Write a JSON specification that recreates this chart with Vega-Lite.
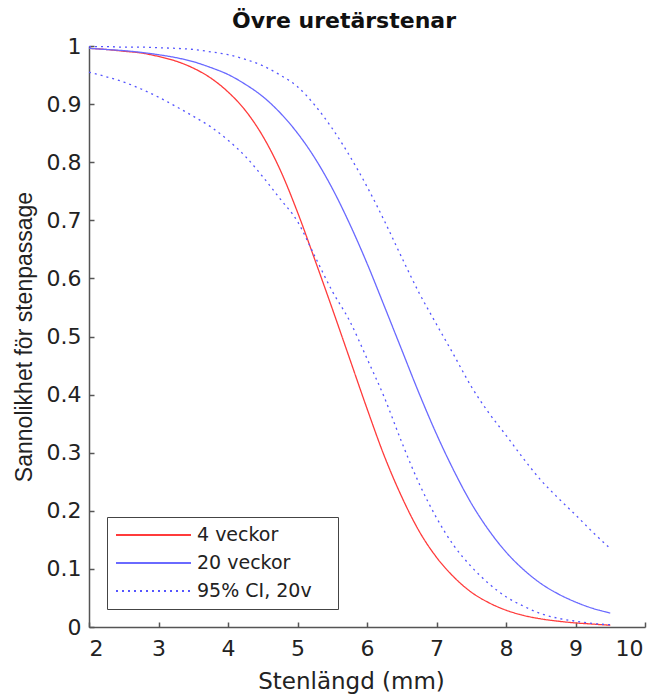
{
  "$schema": "https://vega.github.io/schema/vega-lite/v6.json",
  "autosize": "none",
  "width": 556,
  "height": 581,
  "padding": {"left": 89, "top": 46, "right": 12, "bottom": 71},
  "background": "white",
  "config": {
    "font": "DejaVu Sans",
    "view": {"stroke": null}
  },
  "title": {
    "text": "Övre uretärstenar",
    "font": "DejaVu Sans",
    "fontSize": 22,
    "fontWeight": "bold",
    "color": "#111",
    "anchor": "middle",
    "dx": -23,
    "offset": 2
  },
  "datasets": {
    "curves": [
      {"x": 2.0, "y": 0.996, "series": "4 veckor", "curve": "red"},
      {"x": 2.25, "y": 0.994, "series": "4 veckor", "curve": "red"},
      {"x": 2.5, "y": 0.991, "series": "4 veckor", "curve": "red"},
      {"x": 2.75, "y": 0.988, "series": "4 veckor", "curve": "red"},
      {"x": 3.0, "y": 0.982, "series": "4 veckor", "curve": "red"},
      {"x": 3.25, "y": 0.974, "series": "4 veckor", "curve": "red"},
      {"x": 3.5, "y": 0.962, "series": "4 veckor", "curve": "red"},
      {"x": 3.75, "y": 0.945, "series": "4 veckor", "curve": "red"},
      {"x": 4.0, "y": 0.921, "series": "4 veckor", "curve": "red"},
      {"x": 4.25, "y": 0.889, "series": "4 veckor", "curve": "red"},
      {"x": 4.5, "y": 0.845, "series": "4 veckor", "curve": "red"},
      {"x": 4.75, "y": 0.787, "series": "4 veckor", "curve": "red"},
      {"x": 5.0, "y": 0.714, "series": "4 veckor", "curve": "red"},
      {"x": 5.25, "y": 0.632, "series": "4 veckor", "curve": "red"},
      {"x": 5.5, "y": 0.548, "series": "4 veckor", "curve": "red"},
      {"x": 5.75, "y": 0.462, "series": "4 veckor", "curve": "red"},
      {"x": 6.0, "y": 0.376, "series": "4 veckor", "curve": "red"},
      {"x": 6.25, "y": 0.294, "series": "4 veckor", "curve": "red"},
      {"x": 6.5, "y": 0.224, "series": "4 veckor", "curve": "red"},
      {"x": 6.75, "y": 0.165, "series": "4 veckor", "curve": "red"},
      {"x": 7.0, "y": 0.120, "series": "4 veckor", "curve": "red"},
      {"x": 7.25, "y": 0.086, "series": "4 veckor", "curve": "red"},
      {"x": 7.5, "y": 0.060, "series": "4 veckor", "curve": "red"},
      {"x": 7.75, "y": 0.042, "series": "4 veckor", "curve": "red"},
      {"x": 8.0, "y": 0.029, "series": "4 veckor", "curve": "red"},
      {"x": 8.25, "y": 0.020, "series": "4 veckor", "curve": "red"},
      {"x": 8.5, "y": 0.014, "series": "4 veckor", "curve": "red"},
      {"x": 8.75, "y": 0.010, "series": "4 veckor", "curve": "red"},
      {"x": 9.0, "y": 0.007, "series": "4 veckor", "curve": "red"},
      {"x": 9.25, "y": 0.005, "series": "4 veckor", "curve": "red"},
      {"x": 9.5, "y": 0.003, "series": "4 veckor", "curve": "red"},

      {"x": 2.0, "y": 0.996, "series": "20 veckor", "curve": "blue"},
      {"x": 2.25, "y": 0.994, "series": "20 veckor", "curve": "blue"},
      {"x": 2.5, "y": 0.992, "series": "20 veckor", "curve": "blue"},
      {"x": 2.75, "y": 0.989, "series": "20 veckor", "curve": "blue"},
      {"x": 3.0, "y": 0.985, "series": "20 veckor", "curve": "blue"},
      {"x": 3.25, "y": 0.980, "series": "20 veckor", "curve": "blue"},
      {"x": 3.5, "y": 0.973, "series": "20 veckor", "curve": "blue"},
      {"x": 3.75, "y": 0.963, "series": "20 veckor", "curve": "blue"},
      {"x": 4.0, "y": 0.951, "series": "20 veckor", "curve": "blue"},
      {"x": 4.25, "y": 0.934, "series": "20 veckor", "curve": "blue"},
      {"x": 4.5, "y": 0.913, "series": "20 veckor", "curve": "blue"},
      {"x": 4.75, "y": 0.885, "series": "20 veckor", "curve": "blue"},
      {"x": 5.0, "y": 0.850, "series": "20 veckor", "curve": "blue"},
      {"x": 5.25, "y": 0.807, "series": "20 veckor", "curve": "blue"},
      {"x": 5.5, "y": 0.755, "series": "20 veckor", "curve": "blue"},
      {"x": 5.75, "y": 0.694, "series": "20 veckor", "curve": "blue"},
      {"x": 6.0, "y": 0.626, "series": "20 veckor", "curve": "blue"},
      {"x": 6.25, "y": 0.552, "series": "20 veckor", "curve": "blue"},
      {"x": 6.5, "y": 0.477, "series": "20 veckor", "curve": "blue"},
      {"x": 6.75, "y": 0.402, "series": "20 veckor", "curve": "blue"},
      {"x": 7.0, "y": 0.332, "series": "20 veckor", "curve": "blue"},
      {"x": 7.25, "y": 0.269, "series": "20 veckor", "curve": "blue"},
      {"x": 7.5, "y": 0.213, "series": "20 veckor", "curve": "blue"},
      {"x": 7.75, "y": 0.167, "series": "20 veckor", "curve": "blue"},
      {"x": 8.0, "y": 0.129, "series": "20 veckor", "curve": "blue"},
      {"x": 8.25, "y": 0.099, "series": "20 veckor", "curve": "blue"},
      {"x": 8.5, "y": 0.075, "series": "20 veckor", "curve": "blue"},
      {"x": 8.75, "y": 0.057, "series": "20 veckor", "curve": "blue"},
      {"x": 9.0, "y": 0.043, "series": "20 veckor", "curve": "blue"},
      {"x": 9.25, "y": 0.032, "series": "20 veckor", "curve": "blue"},
      {"x": 9.5, "y": 0.024, "series": "20 veckor", "curve": "blue"},

      {"x": 2.0, "y": 0.999, "series": "95% CI, 20v", "curve": "upper"},
      {"x": 2.25, "y": 0.999, "series": "95% CI, 20v", "curve": "upper"},
      {"x": 2.5, "y": 0.998, "series": "95% CI, 20v", "curve": "upper"},
      {"x": 2.75, "y": 0.998, "series": "95% CI, 20v", "curve": "upper"},
      {"x": 3.0, "y": 0.997, "series": "95% CI, 20v", "curve": "upper"},
      {"x": 3.25, "y": 0.996, "series": "95% CI, 20v", "curve": "upper"},
      {"x": 3.5, "y": 0.994, "series": "95% CI, 20v", "curve": "upper"},
      {"x": 3.75, "y": 0.990, "series": "95% CI, 20v", "curve": "upper"},
      {"x": 4.0, "y": 0.985, "series": "95% CI, 20v", "curve": "upper"},
      {"x": 4.25, "y": 0.977, "series": "95% CI, 20v", "curve": "upper"},
      {"x": 4.5, "y": 0.966, "series": "95% CI, 20v", "curve": "upper"},
      {"x": 4.75, "y": 0.950, "series": "95% CI, 20v", "curve": "upper"},
      {"x": 5.0, "y": 0.930, "series": "95% CI, 20v", "curve": "upper"},
      {"x": 5.25, "y": 0.898, "series": "95% CI, 20v", "curve": "upper"},
      {"x": 5.5, "y": 0.858, "series": "95% CI, 20v", "curve": "upper"},
      {"x": 5.75, "y": 0.811, "series": "95% CI, 20v", "curve": "upper"},
      {"x": 6.0, "y": 0.758, "series": "95% CI, 20v", "curve": "upper"},
      {"x": 6.25, "y": 0.699, "series": "95% CI, 20v", "curve": "upper"},
      {"x": 6.5, "y": 0.636, "series": "95% CI, 20v", "curve": "upper"},
      {"x": 6.75, "y": 0.575, "series": "95% CI, 20v", "curve": "upper"},
      {"x": 7.0, "y": 0.521, "series": "95% CI, 20v", "curve": "upper"},
      {"x": 7.25, "y": 0.468, "series": "95% CI, 20v", "curve": "upper"},
      {"x": 7.5, "y": 0.414, "series": "95% CI, 20v", "curve": "upper"},
      {"x": 7.75, "y": 0.369, "series": "95% CI, 20v", "curve": "upper"},
      {"x": 8.0, "y": 0.330, "series": "95% CI, 20v", "curve": "upper"},
      {"x": 8.25, "y": 0.290, "series": "95% CI, 20v", "curve": "upper"},
      {"x": 8.5, "y": 0.253, "series": "95% CI, 20v", "curve": "upper"},
      {"x": 8.75, "y": 0.222, "series": "95% CI, 20v", "curve": "upper"},
      {"x": 9.0, "y": 0.193, "series": "95% CI, 20v", "curve": "upper"},
      {"x": 9.25, "y": 0.163, "series": "95% CI, 20v", "curve": "upper"},
      {"x": 9.5, "y": 0.135, "series": "95% CI, 20v", "curve": "upper"},

      {"x": 2.0, "y": 0.955, "series": "95% CI, 20v", "curve": "lower"},
      {"x": 2.25, "y": 0.947, "series": "95% CI, 20v", "curve": "lower"},
      {"x": 2.5, "y": 0.938, "series": "95% CI, 20v", "curve": "lower"},
      {"x": 2.75, "y": 0.926, "series": "95% CI, 20v", "curve": "lower"},
      {"x": 3.0, "y": 0.912, "series": "95% CI, 20v", "curve": "lower"},
      {"x": 3.25, "y": 0.896, "series": "95% CI, 20v", "curve": "lower"},
      {"x": 3.5, "y": 0.879, "series": "95% CI, 20v", "curve": "lower"},
      {"x": 3.75, "y": 0.861, "series": "95% CI, 20v", "curve": "lower"},
      {"x": 4.0, "y": 0.838, "series": "95% CI, 20v", "curve": "lower"},
      {"x": 4.25, "y": 0.810, "series": "95% CI, 20v", "curve": "lower"},
      {"x": 4.5, "y": 0.775, "series": "95% CI, 20v", "curve": "lower"},
      {"x": 4.75, "y": 0.737, "series": "95% CI, 20v", "curve": "lower"},
      {"x": 5.0, "y": 0.698, "series": "95% CI, 20v", "curve": "lower"},
      {"x": 5.25, "y": 0.638, "series": "95% CI, 20v", "curve": "lower"},
      {"x": 5.5, "y": 0.578, "series": "95% CI, 20v", "curve": "lower"},
      {"x": 5.75, "y": 0.527, "series": "95% CI, 20v", "curve": "lower"},
      {"x": 6.0, "y": 0.462, "series": "95% CI, 20v", "curve": "lower"},
      {"x": 6.25, "y": 0.395, "series": "95% CI, 20v", "curve": "lower"},
      {"x": 6.5, "y": 0.318, "series": "95% CI, 20v", "curve": "lower"},
      {"x": 6.75, "y": 0.247, "series": "95% CI, 20v", "curve": "lower"},
      {"x": 7.0, "y": 0.188, "series": "95% CI, 20v", "curve": "lower"},
      {"x": 7.25, "y": 0.140, "series": "95% CI, 20v", "curve": "lower"},
      {"x": 7.5, "y": 0.104, "series": "95% CI, 20v", "curve": "lower"},
      {"x": 7.75, "y": 0.075, "series": "95% CI, 20v", "curve": "lower"},
      {"x": 8.0, "y": 0.052, "series": "95% CI, 20v", "curve": "lower"},
      {"x": 8.25, "y": 0.036, "series": "95% CI, 20v", "curve": "lower"},
      {"x": 8.5, "y": 0.023, "series": "95% CI, 20v", "curve": "lower"},
      {"x": 8.75, "y": 0.015, "series": "95% CI, 20v", "curve": "lower"},
      {"x": 9.0, "y": 0.010, "series": "95% CI, 20v", "curve": "lower"},
      {"x": 9.25, "y": 0.006, "series": "95% CI, 20v", "curve": "lower"},
      {"x": 9.5, "y": 0.004, "series": "95% CI, 20v", "curve": "lower"}
    ]
  },
  "data": {"name": "curves"},
  "mark": {"type": "line", "strokeWidth": 1.3, "interpolate": "monotone"},
  "encoding": {
    "x": {
      "field": "x",
      "type": "quantitative",
      "scale": {"domain": [2, 10], "nice": false, "zero": false},
      "axis": {
        "title": "Stenlängd (mm)",
        "values": [2, 3, 4, 5, 6, 7, 8, 9, 10],
        "format": "d",
        "grid": false,
        "domainColor": "#555",
        "domainWidth": 1.5,
        "tickColor": "#555",
        "tickSize": -5,
        "tickWidth": 1.5,
        "labelFont": "DejaVu Sans",
        "labelFontSize": 22,
        "labelColor": "#222",
        "labelPadding": 16,
        "labelOffset": {"condition": {"test": "datum.value == 10", "value": -2}, "value": 0},
        "titleFont": "DejaVu Sans",
        "titleFontSize": 23,
        "titleFontWeight": "normal",
        "titleColor": "#222",
        "titlePadding": 11,
        "titleX": 262,
        "titleAlign": "center"
      }
    },
    "y": {
      "field": "y",
      "type": "quantitative",
      "scale": {"domain": [0, 1], "nice": false},
      "axis": {
        "title": "Sannolikhet för stenpassage",
        "values": [0, 0.1, 0.2, 0.3, 0.4, 0.5, 0.6, 0.7, 0.8, 0.9, 1],
        "format": "~g",
        "grid": false,
        "domainColor": "#555",
        "domainWidth": 1.5,
        "tickColor": "#555",
        "tickSize": -5,
        "tickWidth": 1.5,
        "labelFont": "DejaVu Sans",
        "labelFontSize": 22,
        "labelColor": "#222",
        "labelPadding": 13,
        "titleFont": "Liberation Sans",
        "titleFontSize": 23,
        "titleFontWeight": "normal",
        "titleColor": "#222",
        "titlePadding": 10
      }
    },
    "detail": {"field": "curve"},
    "color": {
      "field": "series",
      "type": "nominal",
      "scale": {
        "domain": ["4 veckor", "20 veckor", "95% CI, 20v"],
        "range": ["#ff3b3b", "#6a6aff", "#5555ff"]
      },
      "legend": {
        "title": null,
        "orient": "none",
        "legendX": 18,
        "legendY": 471,
        "strokeColor": "#444",
        "fillColor": "white",
        "padding": 8,
        "symbolType": "stroke",
        "symbolSize": 5625,
        "symbolStrokeWidth": 2,
        "clipHeight": 20,
        "rowPadding": 8,
        "labelFont": "DejaVu Sans",
        "labelFontSize": 19,
        "labelColor": "#222",
        "labelOffset": 5,
        "labelExpr": "datum.label + '\u00a0\u00a0\u00a0\u200b'"
      }
    },
    "strokeDash": {
      "field": "series",
      "type": "nominal",
      "scale": {
        "domain": ["4 veckor", "20 veckor", "95% CI, 20v"],
        "range": [[1, 0], [1, 0], [2, 4]]
      },
      "legend": {
        "title": null,
        "orient": "none",
        "legendX": 18,
        "legendY": 471,
        "strokeColor": "#444",
        "fillColor": "white",
        "padding": 8,
        "symbolType": "stroke",
        "symbolSize": 5625,
        "symbolStrokeWidth": 2,
        "clipHeight": 20,
        "rowPadding": 8,
        "labelFont": "DejaVu Sans",
        "labelFontSize": 19,
        "labelColor": "#222",
        "labelOffset": 5,
        "labelExpr": "datum.label + '\u00a0\u00a0\u00a0\u200b'"
      }
    }
  }
}
